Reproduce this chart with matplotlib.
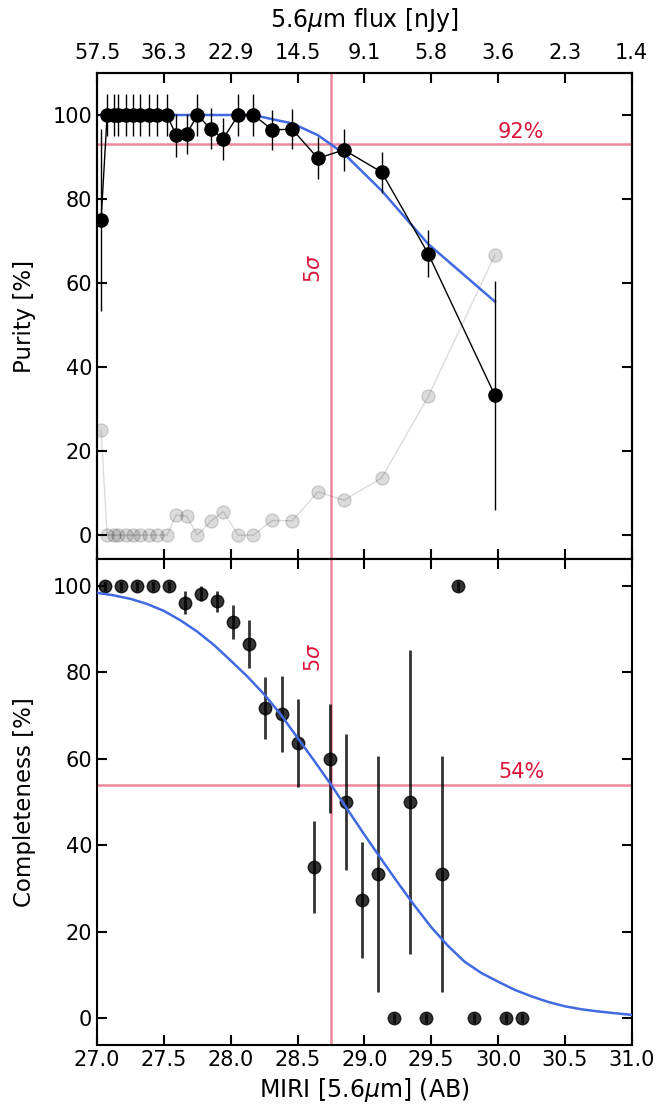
import numpy as np
import matplotlib
matplotlib.use("Agg")
import matplotlib.pyplot as plt

plt.rcParams["font.family"] = ["DejaVu Sans"]
plt.rcParams["font.size"] = 15
plt.rcParams["axes.linewidth"] = 1.5

# ---- purity (top panel) ----
pur_x = [27.03, 27.075, 27.125, 27.157, 27.217, 27.269, 27.324, 27.391, 27.449, 27.523,
         27.591, 27.671, 27.75, 27.85, 27.944, 28.056, 28.169, 28.311, 28.46,
         28.652, 28.847, 29.129, 29.477, 29.976]
purity = [75.0, 100, 100, 100, 100, 100, 100, 100, 100, 100,
          95.2, 95.5, 100, 96.7, 94.4, 100, 100, 96.5, 96.6,
          89.7, 91.7, 86.4, 67.0, 33.3]
pur_err = [21.6, 4.9, 4.9, 4.9, 4.9, 4.9, 4.9, 4.9, 4.9, 4.9,
           5.1, 4.8, 4.9, 4.9, 5.0, 4.9, 4.9, 4.8, 4.8,
           5.0, 5.0, 4.9, 5.6, 27.2]
pur_model = [100, 100, 100, 100, 100, 100, 100, 100, 100, 100,
             100, 100, 100, 100, 100, 100, 100, 99.0, 98.0,
             95.2, 90.8, 82.0, 69.3, 55.6]
pur_cut = 93.0

# ---- completeness (bottom panel) ----
comp_x = [27.06, 27.18, 27.30, 27.42, 27.54, 27.66, 27.78, 27.90, 28.02, 28.14,
          28.26, 28.38, 28.50, 28.62, 28.74, 28.86, 28.98, 29.10, 29.22, 29.34,
          29.46, 29.58, 29.70, 29.82, 30.06, 30.18]
completeness = [100, 100, 100, 100, 100, 96.1, 98.2, 96.4, 91.6, 86.5,
                71.8, 70.4, 63.6, 35.0, 60.0, 50.0, 27.3, 33.3, 0, 50.0,
                0, 33.3, 100, 0, 0, 0]
comp_err = [1.2, 1.2, 1.2, 1.2, 1.2, 2.6, 1.7, 2.4, 3.9, 5.6,
            7.2, 8.8, 10.2, 10.6, 12.6, 15.8, 13.4, 27.3, 1.2, 35.2,
            1.2, 27.3, 1.2, 1.2, 1.2, 1.2]
model_x = [27.0, 27.125, 27.25, 27.375, 27.5, 27.625, 27.75, 27.875, 28.0,
           28.125, 28.25, 28.375, 28.5, 28.625, 28.75, 28.875, 29.0,
           29.125, 29.25, 29.375, 29.5, 29.625, 29.75, 29.875, 30.0,
           30.125, 30.25, 30.375, 30.5, 30.625, 30.75, 30.875, 31.0]
model_y = [98.4, 97.8, 97.0, 95.8, 94.2, 92.0, 89.4, 86.3, 82.7,
           79.0, 74.9, 70.2, 64.8, 59.5, 54.0, 48.2, 42.4,
           36.8, 31.3, 26.0, 21.0, 16.7, 13.0, 10.4, 8.4,
           6.5, 5.0, 3.7, 2.7, 2.0, 1.5, 1.1, 0.7]
comp_cut = 54.0

mag_5sig = 28.75
mag_ticks = [27.0, 27.5, 28.0, 28.5, 29.0, 29.5, 30.0, 30.5, 31.0]
flux_labels = ["57.5", "36.3", "22.9", "14.5", "9.1", "5.8", "3.6", "2.3", "1.4"]

red = "crimson"

fig = plt.figure(figsize=(6.56, 11.06), dpi=100)
gs = fig.add_gridspec(2, 1, hspace=0, left=0.148, right=0.963, top=0.934, bottom=0.055)
ax1 = fig.add_subplot(gs[0])
ax2 = fig.add_subplot(gs[1], sharex=ax1)

# top
contam = 100 - np.array(purity)
ax1.plot(pur_x, contam, "o-", color="k", alpha=0.14, ms=9.5, lw=1, zorder=2)
ax1.plot(pur_x, pur_model, color="royalblue", lw=1.8, zorder=2.5)
ax1.errorbar(pur_x, purity, yerr=pur_err, fmt="o-", color="k", ms=9.5, lw=1,
             elinewidth=1, zorder=3)
ax1.axvline(mag_5sig, color=red, alpha=0.5, lw=1.8, zorder=1)
ax1.axhline(pur_cut, color=red, alpha=0.5, lw=1.8, zorder=1)
ax1.text(mag_5sig - 0.05, 60, r"5$\sigma$", rotation=90, color=red, ha="right", va="bottom")
ax1.text(30.0, pur_cut + 0.5, "92%", color=red, ha="left", va="bottom")
ax1.set_ylim(-5.7, 110)
ax1.set_ylabel("Purity [%]", fontsize=16.5, labelpad=12)
ax1.set_yticks([0, 20, 40, 60, 80, 100])

# bottom
ax2.errorbar(comp_x, completeness, yerr=comp_err, fmt="o", color="k", alpha=0.8,
             ms=9, elinewidth=2, zorder=2)
ax2.plot(model_x, model_y, color="royalblue", lw=1.8, zorder=3)
ax2.axvline(mag_5sig, color=red, alpha=0.5, lw=1.8, zorder=1)
ax2.axhline(comp_cut, color=red, alpha=0.5, lw=1.8, zorder=1)
ax2.text(mag_5sig - 0.05, 80, r"5$\sigma$", rotation=90, color=red, ha="right", va="bottom")
ax2.text(30.0, comp_cut + 0.5, "54%", color=red, ha="left", va="bottom")
ax2.set_ylim(-6.3, 106.2)
ax2.set_ylabel("Completeness [%]", fontsize=16.5, labelpad=12)
ax2.set_xlabel(r"MIRI [5.6$\mu$m] (AB)", fontsize=17)
ax2.set_yticks([0, 20, 40, 60, 80, 100])

ax2.set_xlim(27.0, 31.0)
ax2.set_xticks(mag_ticks)
ax2.set_xticklabels([f"{t:.1f}" for t in mag_ticks])

for ax in (ax1, ax2):
    ax.tick_params(direction="in", length=7, width=1.5, top=True, right=True,
                   labelsize=15)
ax1.tick_params(labelbottom=False)

# flux axis on top
axt = ax1.twiny()
axt.set_xlim(27.0, 31.0)
axt.set_xticks(mag_ticks)
axt.set_xticklabels(flux_labels)
axt.tick_params(direction="in", length=7, width=1.5, labelsize=15, pad=7)
axt.set_xlabel(r"5.6$\mu$m flux [nJy]", fontsize=17, labelpad=12)

fig.savefig("out.png", dpi=100)
